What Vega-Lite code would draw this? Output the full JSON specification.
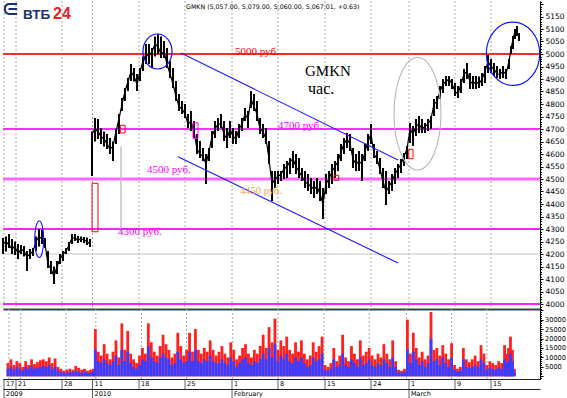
{
"$schema": "https://vega.github.io/schema/vega-lite/v6.json",
"padding": 0,
"spacing": 0,
"bounds": "flush",
"background": "white",
"config": {"view": {"stroke": null}, "font": "DejaVu Sans"},
"datasets": {
"bars": [
{"t":0,"lo":4200,"hi":4264,"c":4240,"v":7000,"b":4000},
{"t":3,"lo":4210,"hi":4270,"c":4250,"v":9000,"b":5000},
{"t":6,"lo":4224,"hi":4280,"c":4236,"v":6000,"b":3500},
{"t":9,"lo":4200,"hi":4260,"c":4220,"v":8000,"b":5000},
{"t":12,"lo":4196,"hi":4250,"c":4232,"v":7000,"b":4000},
{"t":15,"lo":4180,"hi":4240,"c":4200,"v":5000,"b":3000},
{"t":18,"lo":4200,"hi":4236,"c":4220,"v":8000,"b":5000},
{"t":21,"lo":4190,"hi":4232,"c":4210,"v":6000,"b":4000},
{"t":24,"lo":4132,"hi":4212,"c":4190,"v":9000,"b":5500},
{"t":27,"lo":4180,"hi":4220,"c":4200,"v":6500,"b":4000},
{"t":30,"lo":4192,"hi":4224,"c":4210,"v":7500,"b":4500},
{"t":33,"lo":4212,"hi":4270,"c":4250,"v":8500,"b":5000},
{"t":36,"lo":4230,"hi":4300,"c":4270,"v":9000,"b":5500},
{"t":39,"lo":4240,"hi":4296,"c":4260,"v":8000,"b":5000},
{"t":42,"lo":4224,"hi":4264,"c":4240,"v":10000,"b":6000},
{"t":45,"lo":4144,"hi":4212,"c":4160,"v":7000,"b":4000},
{"t":48,"lo":4120,"hi":4172,"c":4140,"v":9500,"b":5000},
{"t":51,"lo":4080,"hi":4150,"c":4110,"v":5000,"b":3000},
{"t":54,"lo":4120,"hi":4172,"c":4150,"v":4000,"b":2500},
{"t":57,"lo":4160,"hi":4200,"c":4180,"v":3000,"b":2000},
{"t":60,"lo":4172,"hi":4212,"c":4200,"v":3500,"b":2000},
{"t":63,"lo":4200,"hi":4224,"c":4210,"v":4000,"b":2500},
{"t":66,"lo":4212,"hi":4248,"c":4236,"v":3500,"b":2200},
{"t":69,"lo":4240,"hi":4280,"c":4264,"v":5500,"b":3000},
{"t":72,"lo":4252,"hi":4280,"c":4264,"v":4500,"b":2500},
{"t":75,"lo":4244,"hi":4272,"c":4256,"v":3500,"b":2000},
{"t":78,"lo":4248,"hi":4270,"c":4260,"v":4000,"b":2500},
{"t":81,"lo":4244,"hi":4268,"c":4256,"v":3000,"b":1800},
{"t":84,"lo":4236,"hi":4266,"c":4250,"v":3500,"b":2000},
{"t":87,"lo":4228,"hi":4260,"c":4240,"v":4000,"b":2500},
{"t":89,"lo":4512,"hi":4690,"c":4680,"v":25000,"b":14000},
{"t":92,"lo":4650,"hi":4744,"c":4700,"v":13000,"b":8000},
{"t":95,"lo":4660,"hi":4740,"c":4690,"v":11000,"b":7000},
{"t":98,"lo":4640,"hi":4704,"c":4670,"v":17000,"b":9000},
{"t":101,"lo":4630,"hi":4690,"c":4660,"v":12000,"b":7000},
{"t":104,"lo":4620,"hi":4680,"c":4640,"v":9000,"b":6000},
{"t":107,"lo":4600,"hi":4664,"c":4620,"v":13000,"b":8000},
{"t":110,"lo":4572,"hi":4650,"c":4630,"v":19000,"b":11000},
{"t":113,"lo":4640,"hi":4700,"c":4690,"v":10000,"b":6000},
{"t":116,"lo":4680,"hi":4760,"c":4740,"v":28000,"b":14000},
{"t":119,"lo":4772,"hi":4824,"c":4800,"v":14000,"b":8000},
{"t":122,"lo":4812,"hi":4864,"c":4850,"v":24000,"b":13000},
{"t":125,"lo":4852,"hi":4904,"c":4890,"v":12000,"b":7000},
{"t":128,"lo":4892,"hi":4960,"c":4930,"v":9000,"b":5000},
{"t":131,"lo":4890,"hi":4944,"c":4910,"v":7000,"b":4000},
{"t":134,"lo":4852,"hi":4920,"c":4880,"v":11000,"b":6000},
{"t":137,"lo":4892,"hi":4944,"c":4930,"v":15000,"b":9000},
{"t":140,"lo":4932,"hi":4990,"c":4970,"v":12000,"b":8000},
{"t":143,"lo":4960,"hi":5040,"c":5000,"v":28000,"b":16000},
{"t":146,"lo":4960,"hi":5040,"c":4990,"v":18000,"b":10000},
{"t":149,"lo":4944,"hi":5024,"c":5010,"v":13000,"b":8000},
{"t":152,"lo":4990,"hi":5070,"c":5040,"v":11000,"b":7000},
{"t":155,"lo":5000,"hi":5080,"c":5030,"v":16000,"b":10000},
{"t":158,"lo":4984,"hi":5070,"c":5000,"v":22000,"b":12000},
{"t":161,"lo":4984,"hi":5052,"c":5010,"v":17000,"b":10000},
{"t":164,"lo":4944,"hi":5024,"c":4960,"v":14000,"b":9000},
{"t":167,"lo":4904,"hi":4972,"c":4920,"v":10000,"b":6000},
{"t":170,"lo":4864,"hi":4944,"c":4880,"v":12000,"b":7000},
{"t":173,"lo":4812,"hi":4892,"c":4830,"v":23000,"b":13000},
{"t":176,"lo":4772,"hi":4840,"c":4790,"v":16000,"b":9000},
{"t":179,"lo":4760,"hi":4812,"c":4780,"v":11000,"b":7000},
{"t":182,"lo":4744,"hi":4800,"c":4760,"v":14000,"b":8000},
{"t":185,"lo":4704,"hi":4760,"c":4720,"v":23000,"b":13000},
{"t":188,"lo":4692,"hi":4772,"c":4730,"v":13000,"b":8000},
{"t":191,"lo":4664,"hi":4732,"c":4690,"v":25000,"b":14000},
{"t":194,"lo":4600,"hi":4680,"c":4620,"v":14000,"b":8000},
{"t":197,"lo":4584,"hi":4652,"c":4600,"v":12000,"b":7000},
{"t":200,"lo":4572,"hi":4624,"c":4590,"v":15000,"b":9000},
{"t":203,"lo":4480,"hi":4600,"c":4560,"v":13000,"b":8000},
{"t":206,"lo":4572,"hi":4624,"c":4610,"v":19000,"b":11000},
{"t":209,"lo":4624,"hi":4692,"c":4670,"v":14000,"b":8000},
{"t":212,"lo":4664,"hi":4732,"c":4700,"v":11000,"b":7000},
{"t":215,"lo":4692,"hi":4744,"c":4720,"v":13000,"b":7000},
{"t":218,"lo":4704,"hi":4760,"c":4720,"v":16000,"b":9000},
{"t":221,"lo":4652,"hi":4732,"c":4680,"v":12000,"b":7000},
{"t":224,"lo":4624,"hi":4704,"c":4660,"v":10000,"b":6000},
{"t":227,"lo":4664,"hi":4732,"c":4700,"v":18000,"b":10000},
{"t":230,"lo":4640,"hi":4704,"c":4670,"v":14000,"b":8000},
{"t":233,"lo":4640,"hi":4692,"c":4660,"v":9000,"b":5000},
{"t":236,"lo":4664,"hi":4720,"c":4700,"v":11000,"b":7000},
{"t":239,"lo":4692,"hi":4744,"c":4720,"v":15000,"b":9000},
{"t":242,"lo":4732,"hi":4784,"c":4760,"v":17000,"b":10000},
{"t":245,"lo":4704,"hi":4772,"c":4740,"v":12000,"b":7000},
{"t":248,"lo":4784,"hi":4852,"c":4820,"v":10000,"b":6000},
{"t":251,"lo":4772,"hi":4840,"c":4790,"v":14000,"b":8000},
{"t":254,"lo":4732,"hi":4812,"c":4760,"v":12000,"b":7000},
{"t":257,"lo":4680,"hi":4744,"c":4700,"v":16000,"b":9000},
{"t":260,"lo":4664,"hi":4720,"c":4690,"v":22000,"b":12000},
{"t":263,"lo":4640,"hi":4704,"c":4660,"v":15000,"b":9000},
{"t":266,"lo":4560,"hi":4652,"c":4580,"v":26000,"b":15000},
{"t":269,"lo":4412,"hi":4532,"c":4480,"v":18000,"b":10000},
{"t":272,"lo":4464,"hi":4532,"c":4500,"v":30500,"b":17000},
{"t":275,"lo":4480,"hi":4532,"c":4510,"v":14000,"b":8000},
{"t":278,"lo":4492,"hi":4532,"c":4520,"v":19000,"b":11000},
{"t":281,"lo":4500,"hi":4560,"c":4540,"v":16000,"b":9000},
{"t":284,"lo":4504,"hi":4572,"c":4550,"v":21000,"b":12000},
{"t":287,"lo":4520,"hi":4584,"c":4570,"v":14000,"b":8000},
{"t":290,"lo":4544,"hi":4612,"c":4580,"v":12000,"b":7000},
{"t":293,"lo":4520,"hi":4600,"c":4550,"v":18000,"b":10000},
{"t":296,"lo":4504,"hi":4584,"c":4530,"v":13000,"b":8000},
{"t":299,"lo":4492,"hi":4544,"c":4510,"v":19000,"b":10000},
{"t":302,"lo":4464,"hi":4532,"c":4490,"v":12000,"b":7000},
{"t":305,"lo":4452,"hi":4520,"c":4480,"v":9000,"b":5000},
{"t":308,"lo":4440,"hi":4504,"c":4470,"v":11000,"b":6000},
{"t":311,"lo":4424,"hi":4492,"c":4460,"v":18000,"b":10000},
{"t":314,"lo":4440,"hi":4504,"c":4470,"v":13000,"b":8000},
{"t":317,"lo":4412,"hi":4492,"c":4440,"v":16000,"b":9000},
{"t":320,"lo":4340,"hi":4464,"c":4400,"v":21000,"b":12000},
{"t":323,"lo":4440,"hi":4520,"c":4480,"v":6000,"b":3500},
{"t":326,"lo":4464,"hi":4532,"c":4500,"v":5000,"b":3000},
{"t":329,"lo":4480,"hi":4560,"c":4530,"v":7000,"b":4000},
{"t":332,"lo":4504,"hi":4572,"c":4550,"v":15000,"b":9000},
{"t":335,"lo":4532,"hi":4600,"c":4570,"v":8000,"b":5000},
{"t":338,"lo":4572,"hi":4640,"c":4610,"v":11000,"b":6000},
{"t":341,"lo":4600,"hi":4664,"c":4640,"v":22000,"b":12000},
{"t":344,"lo":4624,"hi":4684,"c":4660,"v":10000,"b":6000},
{"t":347,"lo":4612,"hi":4680,"c":4640,"v":8000,"b":5000},
{"t":350,"lo":4544,"hi":4624,"c":4580,"v":16000,"b":9000},
{"t":353,"lo":4532,"hi":4600,"c":4560,"v":12000,"b":7000},
{"t":356,"lo":4532,"hi":4612,"c":4570,"v":9000,"b":5000},
{"t":359,"lo":4492,"hi":4600,"c":4560,"v":19000,"b":10000},
{"t":362,"lo":4572,"hi":4640,"c":4610,"v":11000,"b":6000},
{"t":365,"lo":4612,"hi":4680,"c":4650,"v":13000,"b":7000},
{"t":368,"lo":4640,"hi":4720,"c":4680,"v":15000,"b":9000},
{"t":371,"lo":4584,"hi":4640,"c":4600,"v":11000,"b":6000},
{"t":374,"lo":4560,"hi":4612,"c":4580,"v":9000,"b":5000},
{"t":377,"lo":4520,"hi":4584,"c":4540,"v":12000,"b":7000},
{"t":380,"lo":4464,"hi":4544,"c":4490,"v":10000,"b":6000},
{"t":383,"lo":4396,"hi":4532,"c":4450,"v":17000,"b":9000},
{"t":386,"lo":4440,"hi":4492,"c":4470,"v":12000,"b":7000},
{"t":389,"lo":4452,"hi":4520,"c":4490,"v":9000,"b":5000},
{"t":392,"lo":4480,"hi":4544,"c":4520,"v":19000,"b":10000},
{"t":395,"lo":4504,"hi":4560,"c":4540,"v":8000,"b":5000},
{"t":398,"lo":4524,"hi":4580,"c":4560,"v":3500,"b":2000},
{"t":401,"lo":4552,"hi":4604,"c":4590,"v":3000,"b":2000},
{"t":404,"lo":4580,"hi":4632,"c":4620,"v":4000,"b":2500},
{"t":407,"lo":4644,"hi":4724,"c":4700,"v":30000,"b":14000},
{"t":410,"lo":4632,"hi":4712,"c":4680,"v":12000,"b":7000},
{"t":413,"lo":4672,"hi":4740,"c":4710,"v":23000,"b":13000},
{"t":416,"lo":4684,"hi":4752,"c":4720,"v":15000,"b":9000},
{"t":419,"lo":4684,"hi":4740,"c":4700,"v":10000,"b":6000},
{"t":422,"lo":4684,"hi":4724,"c":4710,"v":13000,"b":8000},
{"t":425,"lo":4692,"hi":4740,"c":4720,"v":9000,"b":5000},
{"t":428,"lo":4700,"hi":4752,"c":4740,"v":11000,"b":7000},
{"t":431,"lo":4752,"hi":4820,"c":4800,"v":34000,"b":20000},
{"t":434,"lo":4780,"hi":4832,"c":4810,"v":14000,"b":8000},
{"t":437,"lo":4820,"hi":4872,"c":4850,"v":15000,"b":9000},
{"t":440,"lo":4844,"hi":4900,"c":4880,"v":11000,"b":6000},
{"t":443,"lo":4872,"hi":4912,"c":4890,"v":16500,"b":10000},
{"t":446,"lo":4872,"hi":4912,"c":4900,"v":12000,"b":7000},
{"t":449,"lo":4860,"hi":4900,"c":4880,"v":9000,"b":5000},
{"t":452,"lo":4832,"hi":4884,"c":4850,"v":17500,"b":10000},
{"t":455,"lo":4824,"hi":4872,"c":4840,"v":6000,"b":3500},
{"t":458,"lo":4844,"hi":4900,"c":4880,"v":4000,"b":2500},
{"t":461,"lo":4884,"hi":4940,"c":4920,"v":5000,"b":3000},
{"t":464,"lo":4900,"hi":4964,"c":4930,"v":15000,"b":9000},
{"t":467,"lo":4860,"hi":4924,"c":4890,"v":9000,"b":5000},
{"t":470,"lo":4860,"hi":4912,"c":4880,"v":7500,"b":4500},
{"t":473,"lo":4860,"hi":4912,"c":4890,"v":9000,"b":5000},
{"t":476,"lo":4864,"hi":4910,"c":4880,"v":11000,"b":6000},
{"t":479,"lo":4872,"hi":4924,"c":4900,"v":8000,"b":5000},
{"t":482,"lo":4884,"hi":4952,"c":4930,"v":16500,"b":9000},
{"t":485,"lo":4924,"hi":4996,"c":4970,"v":12000,"b":7000},
{"t":488,"lo":4924,"hi":4980,"c":4950,"v":6000,"b":3500},
{"t":491,"lo":4912,"hi":4964,"c":4940,"v":8000,"b":4500},
{"t":494,"lo":4904,"hi":4952,"c":4920,"v":7000,"b":4000},
{"t":497,"lo":4900,"hi":4940,"c":4920,"v":6000,"b":3500},
{"t":500,"lo":4904,"hi":4952,"c":4930,"v":8000,"b":4500},
{"t":503,"lo":4900,"hi":4940,"c":4920,"v":7000,"b":4000},
{"t":506,"lo":4940,"hi":4980,"c":4970,"v":16500,"b":9000},
{"t":508,"lo":5000,"hi":5032,"c":5020,"v":12000,"b":7000},
{"t":510,"lo":5020,"hi":5072,"c":5060,"v":15000,"b":8000},
{"t":512,"lo":5060,"hi":5100,"c":5090,"v":21000,"b":12000},
{"t":514,"lo":5072,"hi":5112,"c":5090,"v":14000,"b":8000},
{"t":516,"lo":5052,"hi":5084,"c":5067,"v":4000,"b":2500}
],
"glitch": [{"t":118,"lo":4280,"hi":4630}],
"labels": [
{"t":1,"txt":"17","lvl":"d"},{"t":13,"txt":"21","lvl":"d"},{"t":59,"txt":"28","lvl":"d"},{"t":89.5,"txt":"11","lvl":"d"},{"t":136,"txt":"18","lvl":"d"},{"t":182,"txt":"25","lvl":"d"},{"t":229,"txt":"1","lvl":"d"},{"t":275,"txt":"8","lvl":"d"},{"t":322,"txt":"15","lvl":"d"},{"t":368,"txt":"24","lvl":"d"},{"t":406,"txt":"1","lvl":"d"},{"t":452,"txt":"9","lvl":"d"},{"t":488,"txt":"15","lvl":"d"},
{"t":1,"txt":"2009","lvl":"m"},{"t":89.5,"txt":"2010","lvl":"m"},{"t":229,"txt":"February","lvl":"m"},{"t":406,"txt":"March","lvl":"m"}
]
},
"vconcat": [
{
"width": 537, "height": 308,
"layer": [
{"data": {"name": "labels"}, "transform": [{"filter": "datum.lvl === 'd'"}],
 "mark": {"type": "rule", "color": "#a8a8a8", "strokeDash": [2, 2], "strokeWidth": 1},
 "encoding": {"x": {"field": "t", "type": "quantitative", "scale": {"domain": [0, 537], "nice": false, "zero": false},
   "axis": {"orient": "bottom", "title": null, "labels": false, "ticks": false, "grid": false, "domainColor": "#404040", "domainWidth": 2}}}},
{"data": {"values": [{}]}, "mark": {"type": "rule", "color": "#c4c4c4", "strokeWidth": 1},
 "encoding": {"y": {"datum": 4200, "type": "quantitative", "scale": {"domain": [3980, 5212], "nice": false, "zero": false},
   "axis": {"orient": "right", "title": null, "grid": false, "tickCount": 123,
     "labelExpr": "(datum.value % 50 === 0 && datum.value >= 4000 && datum.value <= 5150) ? format(datum.value, 'd') : ''",
     "labelOverlap": false, "labelFlush": false, "labelFont": "DejaVu Sans", "labelColor": "#000000", "labelPadding": 2,
     "labelFontSize": {"condition": {"test": "datum.value % 50 === 0 && datum.value >= 4000 && datum.value <= 5150", "value": 7.5}, "value": 0.1},
     "tickColor": "#000000", "domainColor": "#000000", "domainWidth": 1,
     "tickSize": {"condition": {"test": "datum.value % 50 === 0", "value": 3}, "value": 1.5}}}}},
{"data": {"values": [{}]}, "mark": {"type": "rule", "color": "#ff2a2a", "strokeWidth": 1.8}, "encoding": {"y": {"datum": 5000, "type": "quantitative"}}},
{"data": {"values": [{}]}, "mark": {"type": "rule", "color": "#ff30ff", "strokeWidth": 2}, "encoding": {"y": {"datum": 4700, "type": "quantitative"}}},
{"data": {"values": [{}]}, "mark": {"type": "rule", "color": "#ff66ff", "strokeWidth": 3}, "encoding": {"y": {"datum": 4500, "type": "quantitative"}}},
{"data": {"values": [{}]}, "mark": {"type": "rule", "color": "#ff22ff", "strokeWidth": 2}, "encoding": {"y": {"datum": 4300, "type": "quantitative"}}},
{"data": {"values": [{}]}, "mark": {"type": "rule", "color": "#ff22ff", "strokeWidth": 2}, "encoding": {"y": {"datum": 4000, "type": "quantitative"}}},
{"data": {"name": "glitch"}, "mark": {"type": "rule", "color": "#b4b4b4", "strokeWidth": 1.2},
 "encoding": {"x": {"field": "t", "type": "quantitative"}, "y": {"field": "lo", "type": "quantitative"}, "y2": {"field": "hi"}}},
{"data": {"name": "bars"}, "mark": {"type": "rule", "color": "#000000", "strokeWidth": 2},
 "encoding": {"x": {"field": "t", "type": "quantitative"}, "y": {"field": "lo", "type": "quantitative"}, "y2": {"field": "hi"}}},
{"data": {"name": "bars"}, "transform": [{"filter": "datum.t < 88"}], "mark": {"type": "line", "color": "#000000", "strokeWidth": 1.2},
 "encoding": {"x": {"field": "t", "type": "quantitative"}, "y": {"field": "c", "type": "quantitative"}}},
{"data": {"name": "bars"}, "transform": [{"filter": "datum.t > 88"}], "mark": {"type": "line", "color": "#000000", "strokeWidth": 1.2},
 "encoding": {"x": {"field": "t", "type": "quantitative"}, "y": {"field": "c", "type": "quantitative"}}},
{"data": {"values": [{}]}, "mark": {"type": "rule", "color": "#1a1aff", "strokeWidth": 1.1},
 "encoding": {"x": {"datum": 178, "type": "quantitative"}, "y": {"datum": 5004, "type": "quantitative"}, "x2": {"datum": 395}, "y2": {"datum": 4576}}},
{"data": {"values": [{}]}, "mark": {"type": "rule", "color": "#1a1aff", "strokeWidth": 1.1},
 "encoding": {"x": {"datum": 175, "type": "quantitative"}, "y": {"datum": 4589, "type": "quantitative"}, "x2": {"datum": 395}, "y2": {"datum": 4164}}},
{"data": {"values": [{}]}, "mark": {"type": "rect", "filled": false, "color": "#ff0000", "strokeWidth": 1},
 "encoding": {"x": {"datum": 89, "type": "quantitative"}, "x2": {"datum": 95}, "y": {"datum": 4289, "type": "quantitative"}, "y2": {"datum": 4483}}},
{"data": {"values": [{}]}, "mark": {"type": "rect", "filled": false, "color": "#ff0000", "strokeWidth": 1},
 "encoding": {"x": {"datum": 117.3, "type": "quantitative"}, "x2": {"datum": 122}, "y": {"datum": 4684, "type": "quantitative"}, "y2": {"datum": 4715}}},
{"data": {"values": [{}]}, "mark": {"type": "rect", "filled": false, "color": "#ff00ff", "strokeWidth": 1},
 "encoding": {"x": {"datum": 190, "type": "quantitative"}, "x2": {"datum": 195}, "y": {"datum": 4663, "type": "quantitative"}, "y2": {"datum": 4725}}},
{"data": {"values": [{}]}, "mark": {"type": "rect", "filled": false, "color": "#ff0000", "strokeWidth": 1},
 "encoding": {"x": {"datum": 331, "type": "quantitative"}, "x2": {"datum": 335.7}, "y": {"datum": 4495, "type": "quantitative"}, "y2": {"datum": 4515}}},
{"data": {"values": [{}]}, "mark": {"type": "rect", "filled": false, "color": "#ff0000", "strokeWidth": 1},
 "encoding": {"x": {"datum": 405.7, "type": "quantitative"}, "x2": {"datum": 410}, "y": {"datum": 4581, "type": "quantitative"}, "y2": {"datum": 4619}}},
{"data": {"values": [{}]}, "mark": {"type": "point", "filled": false, "color": "#1010ff", "opacity": 1, "strokeWidth": 1.2, "size": 1225,
   "shape": "M 0.829 0 C 0.829 0.552 0.458 1 0 1 C -0.458 1 -0.829 0.552 -0.829 0 C -0.829 -0.552 -0.458 -1 0 -1 C 0.458 -1 0.829 -0.552 0.829 0 Z"},
 "encoding": {"x": {"datum": 154.5, "type": "quantitative"}, "y": {"datum": 5010, "type": "quantitative"}}},
{"data": {"values": [{}]}, "mark": {"type": "point", "filled": false, "color": "#1010ff", "opacity": 1, "strokeWidth": 1.2, "size": 4020,
   "shape": "M 0.842 0 C 0.842 0.552 0.465 1 0 1 C -0.465 1 -0.842 0.552 -0.842 0 C -0.842 -0.552 -0.465 -1 0 -1 C 0.465 -1 0.842 -0.552 0.842 0 Z"},
 "encoding": {"x": {"datum": 510, "type": "quantitative"}, "y": {"datum": 5001, "type": "quantitative"}}},
{"data": {"values": [{}]}, "mark": {"type": "point", "filled": false, "color": "#1010ff", "opacity": 1, "strokeWidth": 1.1, "size": 1340,
   "shape": "M 0.246 0 C 0.246 0.552 0.136 1 0 1 C -0.136 1 -0.246 0.552 -0.246 0 C -0.246 -0.552 -0.136 -1 0 -1 C 0.136 -1 0.246 -0.552 0.246 0 Z"},
 "encoding": {"x": {"datum": 36.2, "type": "quantitative"}, "y": {"datum": 4259, "type": "quantitative"}}},
{"data": {"values": [{}]}, "mark": {"type": "point", "filled": false, "color": "#b8b8b8", "opacity": 1, "strokeWidth": 1.1, "size": 12634,
   "shape": "M 0.418 0 C 0.418 0.552 0.231 1 0 1 C -0.231 1 -0.418 0.552 -0.418 0 C -0.418 -0.552 -0.231 -1 0 -1 C 0.231 -1 0.418 -0.552 0.418 0 Z"},
 "encoding": {"x": {"datum": 414.5, "type": "quantitative"}, "y": {"datum": 4761, "type": "quantitative"}}},
{"data": {"values": [{}]}, "mark": {"type": "text", "font": "Liberation Serif", "fontSize": 11, "color": "#ff0000", "align": "left", "baseline": "alphabetic"},
 "encoding": {"x": {"datum": 232, "type": "quantitative"}, "y": {"datum": 4998, "type": "quantitative"}, "text": {"value": "5000 руб."}}},
{"data": {"values": [{}]}, "mark": {"type": "text", "font": "Liberation Serif", "fontSize": 11, "color": "#ff00ff", "align": "left", "baseline": "alphabetic"},
 "encoding": {"x": {"datum": 275, "type": "quantitative"}, "y": {"datum": 4699, "type": "quantitative"}, "text": {"value": "4700 руб."}}},
{"data": {"values": [{}]}, "mark": {"type": "text", "font": "Liberation Serif", "fontSize": 11, "color": "#ff00ff", "align": "left", "baseline": "alphabetic"},
 "encoding": {"x": {"datum": 144, "type": "quantitative"}, "y": {"datum": 4523, "type": "quantitative"}, "text": {"value": "4500 руб."}}},
{"data": {"values": [{}]}, "mark": {"type": "text", "font": "Liberation Serif", "fontSize": 11, "color": "#ff00ff", "align": "left", "baseline": "alphabetic"},
 "encoding": {"x": {"datum": 115, "type": "quantitative"}, "y": {"datum": 4275, "type": "quantitative"}, "text": {"value": "4300 руб."}}},
{"data": {"values": [{}]}, "mark": {"type": "text", "font": "Liberation Serif", "fontSize": 10.5, "color": "#f4a444", "align": "left", "baseline": "alphabetic"},
 "encoding": {"x": {"datum": 237, "type": "quantitative"}, "y": {"datum": 4439, "type": "quantitative"}, "text": {"value": "4450 руб."}}},
{"data": {"values": [{}]}, "mark": {"type": "text", "font": "Liberation Serif", "fontSize": 15, "color": "#000000", "align": "left", "baseline": "alphabetic"},
 "encoding": {"x": {"datum": 302, "type": "quantitative"}, "y": {"datum": 4912, "type": "quantitative"}, "text": {"value": "GMKN"}}},
{"data": {"values": [{}]}, "mark": {"type": "text", "font": "Liberation Serif", "fontSize": 16, "color": "#000000", "align": "left", "baseline": "alphabetic"},
 "encoding": {"x": {"datum": 305, "type": "quantitative"}, "y": {"datum": 4840, "type": "quantitative"}, "text": {"value": "час."}}},
{"data": {"values": [{}]}, "mark": {"type": "text", "font": "DejaVu Sans", "fontSize": 6.3, "color": "#000000", "align": "left", "baseline": "middle"},
 "encoding": {"x": {"datum": 183, "type": "quantitative"}, "y": {"datum": 5188, "type": "quantitative"}, "text": {"value": "GMKN (5,057.00, 5,079.00, 5,060.00, 5,067.01, +0.63)"}}},
{"data": {"values": [{}]}, "mark": {"type": "text", "font": "Liberation Sans", "fontWeight": "bold", "fontSize": 13.5, "color": "#1c2e6e", "align": "left", "baseline": "alphabetic"},
 "encoding": {"x": {"datum": 20, "type": "quantitative"}, "y": {"datum": 5140, "type": "quantitative"}, "text": {"value": "ВТБ"}}},
{"data": {"values": [{}]}, "mark": {"type": "text", "font": "Liberation Sans", "fontWeight": "bold", "fontSize": 16, "color": "#e8202a", "align": "left", "baseline": "alphabetic"},
 "encoding": {"x": {"datum": 50, "type": "quantitative"}, "y": {"datum": 5140, "type": "quantitative"}, "text": {"value": "24"}}},
{"data": {"values": [{}]}, "mark": {"type": "point", "filled": false, "color": "#1c2e6e", "opacity": 1, "strokeWidth": 2, "size": 150,
   "shape": "M 1 -0.8 L -0.2 -0.8 Q -1 -0.8 -1 0 Q -1 0.8 -0.2 0.8 L 1 0.8 M -0.4 0 L 1 0"},
 "encoding": {"x": {"datum": 8, "type": "quantitative"}, "y": {"datum": 5180, "type": "quantitative"}}}
]
},
{
"width": 537, "height": 70,
"layer": [
{"data": {"name": "labels"}, "transform": [{"filter": "datum.lvl === 'd'"}],
 "mark": {"type": "rule", "color": "#a8a8a8", "strokeDash": [2, 2], "strokeWidth": 1},
 "encoding": {"x": {"field": "t", "type": "quantitative", "scale": {"domain": [0, 537], "nice": false, "zero": false},
   "axis": {"orient": "bottom", "title": null, "labels": false, "ticks": false, "grid": false, "domainColor": "#000000", "domainWidth": 1}}}},
{"data": {"name": "bars"}, "mark": {"type": "bar", "orient": "vertical", "color": "#ff2020", "width": 2.8},
 "encoding": {"x": {"field": "t", "type": "quantitative"},
   "y": {"field": "v", "type": "quantitative", "scale": {"domain": [-1400, 35600], "nice": false, "zero": false},
     "axis": {"orient": "right", "title": null, "grid": false, "tickCount": 37,
       "labelExpr": "(datum.value % 5000 === 0 && datum.value >= 5000 && datum.value <= 30000) ? format(datum.value, 'd') : ''",
       "labelOverlap": false, "labelFlush": false, "labelFont": "DejaVu Sans", "labelColor": "#000000", "labelPadding": 1.5,
       "labelFontSize": {"condition": {"test": "datum.value % 5000 === 0 && datum.value >= 5000 && datum.value <= 30000", "value": 6.6}, "value": 0.1},
       "tickColor": "#000000", "domainColor": "#000000", "domainWidth": 1,
       "tickSize": {"condition": {"test": "datum.value % 5000 === 0", "value": 3}, "value": 1.5}}}}},
{"data": {"name": "bars"}, "mark": {"type": "bar", "orient": "vertical", "color": "#3c3cff", "width": 2.8},
 "encoding": {"x": {"field": "t", "type": "quantitative"}, "y": {"field": "b", "type": "quantitative"}}}
]
},
{
"width": 537, "height": 20,
"data": {"name": "labels"},
"layer": [
{"mark": {"type": "tick", "color": "#202020", "thickness": 1, "size": 10},
 "encoding": {"x": {"field": "t", "type": "quantitative", "scale": {"domain": [0, 537], "nice": false, "zero": false}, "axis": null},
   "y": {"field": "lvl", "type": "ordinal", "scale": {"domain": ["d", "m"], "paddingInner": 0, "paddingOuter": 0},
     "axis": {"title": null, "labels": false, "ticks": false, "domain": false, "grid": true, "bandPosition": 0, "gridColor": "#202020", "gridWidth": 1, "gridOpacity": 1}}}},
{"mark": {"type": "text", "font": "DejaVu Sans", "fontSize": 6.5, "color": "#000000", "align": "left", "baseline": "middle", "dx": 2, "dy": -0.5},
 "encoding": {"x": {"field": "t", "type": "quantitative"}, "y": {"field": "lvl", "type": "ordinal"}, "text": {"field": "txt"}}}
]
}
]
}
